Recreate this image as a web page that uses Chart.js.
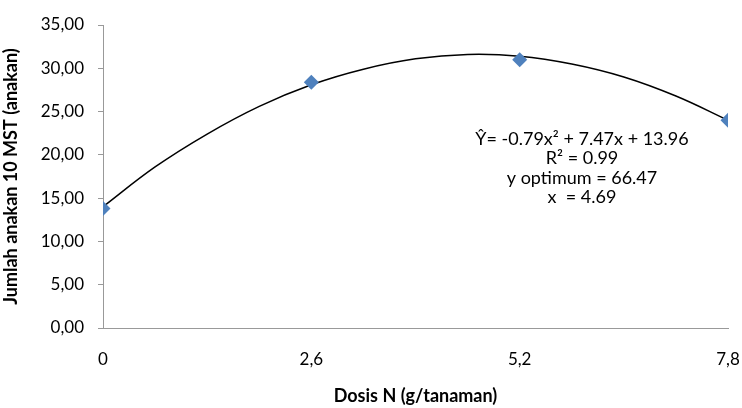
<!DOCTYPE html>
<html><head><meta charset="utf-8">
<script src="https://cdn.jsdelivr.net/npm/chart.js@4/dist/chart.umd.min.js"></script>
<style>html,body{margin:0;padding:0;background:#fff}#wrap{width:742px;height:408px}</style>
</head><body><div id="wrap"><canvas id="c" width="742" height="408"></canvas></div>
<script>
const doses = [0, 2.6, 5.2, 7.8];
const tillers = [13.8, 28.4, 31.0, 24.0];
const trendX = [0, 0.65, 1.3, 1.95, 2.6, 3.25, 3.9, 4.55, 5.2, 5.85, 6.5, 7.15, 7.8];
const trendY = [14.0, 18.6, 22.4, 25.6, 28.1, 29.9, 31.1, 31.6, 31.4, 30.5, 29.0, 26.8, 24.0];
const xTicks = [0, 2.6, 5.2, 7.8];
const yTicks = [0, 5, 10, 15, 20, 25, 30, 35];
const eqLines = ['\u0176= -0.79x\u00b2 + 7.47x + 13.96', 'R\u00b2 = 0.99', 'y optimum = 66.47', 'x  = 4.69'];
const FONT = 'Lato, "Open Sans", sans-serif';

const eqPlugin = {
  id: 'eq',
  afterDraw(chart) {
    const ctx = chart.ctx;
    ctx.save();
    ctx.font = '18px ' + FONT;
    ctx.fillStyle = '#000';
    ctx.textAlign = 'center';
    ctx.textBaseline = 'middle';
    const cx = 582, y0 = 139, dy = 19.5;
    eqLines.forEach((t, i) => ctx.fillText(t, cx, y0 + i * dy));
    ctx.restore();
  }
};

new Chart(document.getElementById('c'), {
  type: 'scatter',
  data: {
    datasets: [
      {
        label: 'trend',
        data: trendX.map((x, i) => ({x, y: trendY[i]})),
        showLine: true, borderColor: '#000', borderWidth: 1.5,
        pointRadius: 0, tension: 0.4, fill: false, order: 2
      },
      {
        label: 'data',
        data: doses.map((x, i) => ({x, y: tillers[i]})),
        pointStyle: 'rectRot', pointRadius: 7.5, pointHoverRadius: 7.5,
        backgroundColor: '#4F81BD', borderColor: '#4F81BD', borderWidth: 0, order: 1
      }
    ]
  },
  options: {
    responsive: false, animation: false,
    layout: {padding: {left: 0, right: 0, top: 0, bottom: 0}},
    plugins: {legend: {display: false}, tooltip: {enabled: false}},
    scales: {
      x: {
        type: 'linear', min: 0, max: 7.8,
        afterBuildTicks: s => { s.ticks = xTicks.map(v => ({value: v})); },
        afterFit: s => { s.height = 80; s.paddingRight = 14; s.paddingLeft = 0; },
        grid: {display: false, drawOnChartArea: false, drawTicks: true, tickLength: 5, color: '#999'},
        border: {color: '#999', width: 1},
        ticks: {color: '#000', font: {family: FONT, size: 17}, padding: 16,
          callback: v => String(v).replace('.', ',')},
        title: {display: true, text: 'Dosis N (g/tanaman)', color: '#000',
          font: {family: FONT, size: 18, weight: 'bold'}, padding: {top: 4, bottom: 1}}
      },
      y: {
        min: 0, max: 35,
        afterBuildTicks: s => { s.ticks = yTicks.map(v => ({value: v})); },
        afterFit: s => { s.width = 103; s.paddingTop = 25; s.paddingBottom = 0; },
        grid: {drawOnChartArea: false, drawTicks: true, tickLength: 5, color: '#999'},
        border: {color: '#999', width: 1},
        ticks: {color: '#000', font: {family: FONT, size: 17}, padding: 14,
          callback: v => v.toFixed(2).replace('.', ',')},
        title: {display: true, text: 'Jumlah anakan 10 MST (anakan)', color: '#000',
          font: {family: FONT, size: 18, weight: 'bold'}, padding: {top: 0, bottom: 2}}
      }
    }
  },
  plugins: [eqPlugin]
});
</script></body></html>
